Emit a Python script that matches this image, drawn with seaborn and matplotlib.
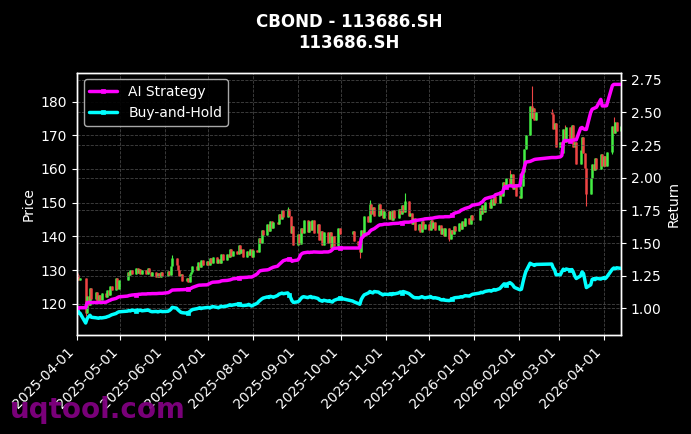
import numpy as np
import pandas as pd
import matplotlib
matplotlib.use("Agg")
import matplotlib.pyplot as plt
import matplotlib.dates as mdates
import matplotlib.ticker as mticker
import seaborn as sns

# ---------------- data ----------------
title_text = "CBOND - 113686.SH\n113686.SH"
start_date = "2025-04-01"
end_date = "2026-04-13"
holidays = ["2025-04-04", "2025-05-01", "2025-05-02", "2025-05-05", "2025-06-02",
            "2025-10-01", "2025-10-02", "2025-10-03", "2025-10-06", "2025-10-07",
            "2025-10-08", "2026-01-01", "2026-01-02", "2026-02-16", "2026-02-17",
            "2026-02-18", "2026-02-19", "2026-02-20", "2026-02-23", "2026-04-06"]

first_open = 129.2
close = [
    # 2025-04
    128.6, 127.0, 127.8, 117.2, 122.5, 119.8, 124.6, 121.6, 123.4, 120.8, 122.8,
    121.2, 123.2, 122.0, 124.2, 122.8, 125.4, 124.0, 127.6, 124.4, 127.0,
    # 2025-05
    129.6, 128.6, 130.2, 129.0, 130.6, 129.2, 130.4, 128.8, 130.0, 129.0,
    130.8, 129.4, 128.2, 129.4, 128.0, 129.2, 128.0, 129.6, 128.4,
    # 2025-06
    129.8, 128.6, 131.2, 133.6, 131.4, 130.0, 128.2, 129.0, 126.8, 127.8,
    126.6, 128.8, 129.6, 131.2, 130.2, 132.4, 131.0, 133.0, 131.4, 132.8,
    # 2025-07
    131.6, 133.6, 132.0, 134.0, 132.2, 133.4, 132.0, 134.8, 133.0, 134.8, 133.8,
    136.4, 134.2, 135.8, 134.8, 137.4, 135.2, 136.4, 134.0, 135.8, 134.6, 136.4, 133.8,
    # 2025-08
    136.0, 135.4, 139.6, 138.2, 141.8, 140.4, 143.6, 141.6, 144.6, 142.6, 144.4,
    143.8, 146.8, 145.2, 147.8, 145.8, 148.0, 146.2, 141.0, 143.0, 137.4,
    # 2025-09
    140.6, 137.8, 142.6, 141.0, 145.0, 141.4, 144.6, 142.0, 144.8, 141.0, 143.8,
    139.0, 141.6, 137.6, 141.2, 138.0, 141.2, 136.6, 140.2, 137.2, 142.4, 140.6,
    # 2025-10
    141.6, 138.8, 137.6, 135.4, 141.8, 140.2, 146.0, 144.4, 149.6, 146.8, 148.6,
    146.2, 149.6, 146.4, 148.0, 145.4, 147.6,
    # 2025-11
    145.2, 147.6, 145.0, 147.8, 145.6, 148.2, 146.6, 149.2, 147.4, 150.4,
    146.2, 147.0, 143.6, 145.4, 141.8, 143.8, 141.4, 144.6, 142.2, 143.6,
    # 2025-12
    142.0, 145.0, 142.4, 144.2, 141.8, 143.4, 140.6, 142.6, 140.0, 142.4, 139.4, 141.8,
    140.6, 143.2, 141.6, 144.0, 142.2, 144.6, 143.0, 145.6, 143.6, 146.4, 145.0,
    # 2026-01
    148.4, 146.6, 149.2, 147.2, 150.2, 148.4, 151.0, 149.2, 152.0, 150.0,
    153.4, 152.0, 156.0, 154.4, 157.4, 155.2, 158.6, 154.0, 155.6, 152.0,
    # 2026-02
    151.4, 155.0, 159.0, 166.0, 170.0, 178.6, 175.2, 178.0, 174.6, 177.0,
    176.4, 172.0, 173.6, 166.4,
    # 2026-03
    168.0, 164.6, 172.0, 168.0, 172.4, 169.0, 173.0, 166.6, 168.0, 161.4, 165.6,
    169.4, 164.8, 160.4, 152.6, 157.4, 161.6, 159.8, 163.4, 160.0, 164.4, 161.0,
    # 2026-04
    164.0, 160.8, 165.0, 172.6, 170.6, 173.8, 171.2, 172.6,
]

high_wicks = {"2025-06-06": 134.6, "2025-08-25": 148.6, "2025-10-21": 150.7,
              "2025-11-14": 152.8, "2026-01-26": 159.6, "2026-02-10": 184.7,
              "2026-02-24": 177.7, "2026-03-05": 173.0, "2026-04-08": 175.5}
low_wicks = {"2025-04-07": 116.5, "2025-10-14": 133.5, "2025-12-15": 138.6,
             "2026-03-20": 149.0, "2026-04-07": 164.5}

# Buy-and-Hold curve (price-equivalent units, / bh_base)
bh_price = [
    # 2025-04
    128.6, 128.0, 127.3, 117.2, 121.5, 123.5, 125.0, 123.0, 122.5, 122.2, 122.0,
    122.6, 122.3, 123.0, 123.6, 124.0, 124.8, 125.5, 126.8, 127.8, 128.5,
    # 2025-05
    129.2, 129.8, 129.4, 130.2, 129.6, 130.4, 129.8, 130.2, 129.5, 130.0,
    130.5, 129.8, 129.0, 128.6, 128.9, 128.4, 128.8, 129.2, 128.7,
    # 2025-06
    129.0, 129.8, 131.0, 133.0, 132.2, 130.5, 129.2, 128.0, 127.6, 127.2,
    127.8, 128.6, 129.8, 130.8, 131.6, 132.0, 132.6, 131.8, 132.3, 132.8,
    # 2025-07
    133.0, 132.4, 133.2, 133.8, 133.0, 132.6, 133.4, 134.2, 133.6, 134.4, 135.0,
    135.6, 135.0, 135.4, 136.2, 136.6, 135.8, 135.2, 134.8, 135.3, 136.0, 135.2, 134.4,
    # 2025-08
    135.2, 137.2, 139.0, 140.2, 141.5, 142.4, 143.6, 143.0, 144.2, 143.8, 143.2,
    145.0, 146.4, 146.8, 147.4, 146.8, 147.6, 146.0, 143.0, 139.6, 138.0,
    # 2025-09
    138.6, 139.6, 141.6, 143.2, 143.8, 142.8, 143.6, 144.0, 142.8, 143.2, 142.0,
    140.4, 139.8, 139.2, 140.2, 139.2, 139.8, 138.8, 138.4, 140.0, 141.6, 142.4,
    # 2025-10
    139.4, 138.6, 136.8, 136.2, 141.0, 143.6, 145.6, 147.6, 149.0, 148.2, 147.6,
    149.0, 148.4, 147.2, 146.6, 145.6, 146.4,
    # 2025-11
    146.0, 146.8, 145.8, 147.0, 146.6, 147.6, 148.6, 147.8, 149.0, 148.6,
    147.0, 145.8, 144.6, 143.4, 142.8, 142.6, 143.2, 143.8, 143.2, 142.6,
    # 2025-12
    143.4, 144.0, 143.0, 142.4, 142.8, 141.8, 140.8, 140.4, 141.0, 140.2, 139.8, 140.6,
    141.6, 142.4, 142.8, 143.2, 143.8, 143.4, 144.2, 144.8, 144.4, 145.4, 146.2,
    # 2026-01
    147.4, 148.2, 147.8, 148.6, 149.2, 150.0, 149.4, 150.2, 151.0, 150.4,
    152.0, 153.6, 155.2, 156.8, 156.0, 158.0, 157.0, 155.6, 153.4, 152.6,
    # 2026-02
    150.8, 151.4, 158.0, 164.0, 169.0, 177.6, 176.8, 176.2, 175.4, 176.4,
    176.8, 173.0, 171.0, 166.0,
    # 2026-03
    166.0, 169.0, 171.6, 170.4, 171.8, 170.6, 171.2, 168.4, 164.6, 162.2, 164.8,
    168.8, 167.2, 160.0, 153.0, 155.8, 161.2, 162.0, 161.0, 162.4, 161.6, 162.4,
    # 2026-04
    163.0, 162.0, 163.4, 171.6, 172.8, 172.0, 173.0, 172.4,
]
bh_base = 132.0

ai_return = [
    # 2025-04
    1.005, 1.005, 1.005, 1.005, 1.043, 1.045, 1.045, 1.045, 1.045, 1.045, 1.045,
    1.046, 1.046, 1.047, 1.052, 1.058, 1.062, 1.068, 1.076, 1.082, 1.088,
    # 2025-05
    1.094, 1.098, 1.100, 1.102, 1.105, 1.106, 1.108, 1.108, 1.110, 1.110,
    1.112, 1.112, 1.112, 1.113, 1.113, 1.114, 1.115, 1.115, 1.115,
    # 2025-06
    1.120, 1.125, 1.132, 1.140, 1.142, 1.142, 1.142, 1.143, 1.143, 1.145,
    1.148, 1.150, 1.153, 1.160, 1.172, 1.176, 1.178, 1.178, 1.179, 1.180,
    # 2025-07
    1.185, 1.190, 1.196, 1.200, 1.202, 1.203, 1.205, 1.210, 1.212, 1.214, 1.216,
    1.218, 1.222, 1.226, 1.230, 1.234, 1.236, 1.236, 1.236, 1.238, 1.240, 1.240, 1.240,
    # 2025-08
    1.245, 1.265, 1.280, 1.288, 1.290, 1.292, 1.295, 1.298, 1.305, 1.310, 1.315,
    1.323, 1.335, 1.345, 1.355, 1.365, 1.375, 1.377, 1.378, 1.360, 1.365,
    # 2025-09
    1.370, 1.385, 1.410, 1.420, 1.425, 1.430, 1.428, 1.430, 1.430, 1.432, 1.430,
    1.430, 1.430, 1.430, 1.432, 1.432, 1.435, 1.440, 1.450, 1.460, 1.462, 1.462,
    # 2025-10
    1.462, 1.462, 1.462, 1.465, 1.537, 1.545, 1.560, 1.575, 1.590, 1.600, 1.605,
    1.610, 1.635, 1.640, 1.640, 1.642, 1.645,
    # 2025-11
    1.645, 1.647, 1.648, 1.650, 1.650, 1.652, 1.655, 1.655, 1.658, 1.660,
    1.660, 1.662, 1.665, 1.668, 1.672, 1.676, 1.678, 1.680, 1.682, 1.685,
    # 2025-12
    1.688, 1.690, 1.690, 1.692, 1.695, 1.700, 1.700, 1.700, 1.700, 1.702, 1.702, 1.705,
    1.715, 1.725, 1.730, 1.740, 1.750, 1.755, 1.760, 1.765, 1.775, 1.782, 1.790,
    # 2026-01
    1.800, 1.810, 1.815, 1.830, 1.840, 1.850, 1.852, 1.855, 1.858, 1.870,
    1.880, 1.885, 1.890, 1.925, 1.930, 1.940, 1.938, 1.935, 1.935, 1.938,
    # 2026-02
    1.940, 2.020, 2.040, 2.080, 2.120, 2.125, 2.130, 2.135, 2.140, 2.142,
    2.155, 2.155, 2.155, 2.155,
    # 2026-03
    2.160, 2.170, 2.270, 2.285, 2.285, 2.285, 2.287, 2.290, 2.290, 2.290, 2.380,
    2.385, 2.375, 2.370, 2.370, 2.500, 2.525, 2.530, 2.535, 2.540, 2.600, 2.550,
    # 2026-04
    2.550, 2.550, 2.552, 2.705, 2.715, 2.715, 2.715, 2.715,
]

series_labels = ["AI Strategy", "Buy-and-Hold"]
series_colors = ["#ff00ff", "#00ffff"]

# ---------------- build frame ----------------
dates = pd.bdate_range(start_date, end_date)
dates = dates[~dates.isin(pd.to_datetime(holidays))]
assert len(dates) == len(close) == len(ai_return) == len(bh_price), (
    len(dates), len(close), len(ai_return), len(bh_price))

df = pd.DataFrame({"date": dates, "close": close, "ai": ai_return})
df["open"] = [first_open] + close[:-1]
df["bh"] = np.array(bh_price) / bh_base
df["body_hi"] = df[["open", "close"]].max(axis=1)
df["body_lo"] = df[["open", "close"]].min(axis=1)
key = df["date"].dt.strftime("%Y-%m-%d")
df["high"] = np.maximum(df["body_hi"], key.map(high_wicks).fillna(df["body_hi"]))
df["low"] = np.minimum(df["body_lo"], key.map(low_wicks).fillna(df["body_lo"]))
up_color, down_color = "#44ee44", "#ee4444"
candle_colors = np.where(df["close"] >= df["open"], up_color, down_color)

# ---------------- style ----------------
sns.set_theme(style="dark", rc={
    "figure.facecolor": "black", "axes.facecolor": "black",
    "axes.edgecolor": "white", "axes.labelcolor": "white",
    "xtick.color": "white", "ytick.color": "white", "text.color": "white",
    "xtick.bottom": True, "ytick.left": True,
    "xtick.major.size": 3.5, "ytick.major.size": 3.5,
    "xtick.major.width": 0.8, "ytick.major.width": 0.8,
    "axes.linewidth": 1.0,
    "font.size": 10, "axes.labelsize": 10, "xtick.labelsize": 10,
    "ytick.labelsize": 10, "legend.fontsize": 10, "axes.titlesize": 12,
})
plt.rcParams["font.family"] = ["DejaVu Sans"]

fig = plt.figure(figsize=(6.91, 4.34), dpi=100)
ax = fig.add_axes([77 / 691, 1 - 335 / 434, (621 - 77) / 691, (335 - 72.5) / 434])
ax.set_facecolor("black")
ax.grid(True, which="major", axis="both", color="#555555", linestyle="--", linewidth=0.6, alpha=0.8)
ax.set_axisbelow(True)

# candles
ax.vlines(df["date"], df["low"], df["high"], colors=candle_colors, linewidth=0.8)
ax.vlines(df["date"], df["body_lo"], df["body_hi"], colors=candle_colors, linewidth=1.8)
ax.set_ylim(110.8, 188.6)
ax.set_ylabel("Price", color="white")

# returns
ax2 = ax.twinx()
ax2.grid(True, axis="y", color="#555555", linestyle="--", linewidth=0.6, alpha=0.8)
for col, lab, colr in zip(["ai", "bh"], series_labels, series_colors):
    sns.lineplot(data=df, x="date", y=col, ax=ax2, color=colr, linewidth=2.5,
                 marker="s", markersize=3.5, markevery=25,
                 markeredgecolor=colr, markeredgewidth=0.5, label=lab)
ax2.set_ylim(0.796, 2.806)
ax2.set_ylabel("Return", color="white")
ax2.yaxis.set_major_locator(mticker.MultipleLocator(0.25))
ax2.tick_params(axis="y", colors="white", right=True, length=3.5)

ax2.legend(loc="upper left", facecolor="black", edgecolor="#bbbbbb",
           labelcolor="white", framealpha=0.9, fontsize=10)

for spine in list(ax.spines.values()) + list(ax2.spines.values()):
    spine.set_color("white")

ax.set_xlim(df["date"].iloc[0], df["date"].iloc[-1])
ax.xaxis.set_major_locator(mdates.MonthLocator())
ax.xaxis.set_major_formatter(mdates.DateFormatter("%Y-%m-%d"))
ax.set_xlabel("")
ax2.set_xlabel("")
plt.setp(ax.get_xticklabels(), rotation=45, ha="right")

ax.set_title(title_text, fontweight="bold", fontsize=12, color="white", pad=18)

fig.text(0.014, 0.036, "uqtool.com", fontsize=20, fontweight="bold",
         color="#800080", alpha=0.95, zorder=10)

fig.savefig("out.png", dpi=100, facecolor="black")
